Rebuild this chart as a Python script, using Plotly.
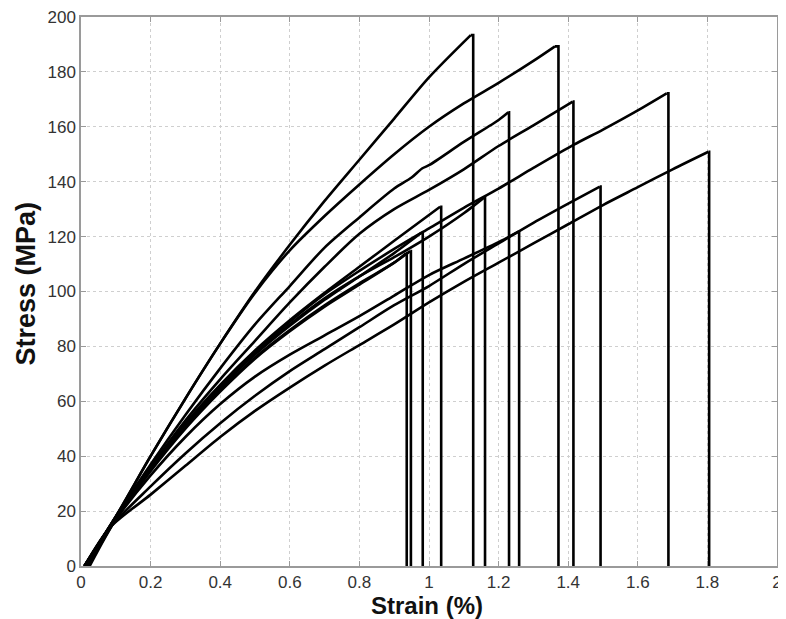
import plotly.graph_objects as go

# Stress-strain curves of 13 specimens
# strain in %, stress in MPa; each curve ends with a vertical drop at failure
c1_strain = [0.01, 0.1, 0.2, 0.3, 0.4, 0.5, 0.6, 0.7, 0.8, 0.9, 1.0, 1.12]
c1_stress = [0, 18, 40, 61, 81, 100, 117, 133, 148, 163, 178, 193.4]

c2_strain = [0.01, 0.1, 0.2, 0.3, 0.4, 0.5, 0.6, 0.7, 0.8, 0.9, 1.0, 1.1, 1.2, 1.3, 1.362]
c2_stress = [0, 18, 40, 61, 81, 99.5, 115, 127.5, 139, 150, 160, 168.5, 176, 184, 189.3]

c3_strain = [0.01, 0.1, 0.2, 0.3, 0.4, 0.5, 0.6, 0.7, 0.8, 0.9, 0.95, 0.98, 1.0, 1.1, 1.2, 1.228]
c3_stress = [0, 18, 37, 55, 72, 88, 102, 116, 127, 137.5, 141.5, 144.8, 146, 154.5, 162.5, 165.3]

c4_strain = [0.01, 0.1, 0.2, 0.3, 0.4, 0.5, 0.6, 0.7, 0.8, 0.9, 1.0, 1.1, 1.2, 1.3, 1.413]
c4_stress = [0, 17.5, 36, 53, 68, 82, 96, 109, 121, 130, 137, 144.5, 153, 160.5, 169.2]

c5_strain = [0.015, 0.1, 0.2, 0.3, 0.4, 0.5, 0.6, 0.7, 0.8, 0.9, 1.0, 1.1, 1.2, 1.3, 1.415, 1.5, 1.6, 1.683]
c5_stress = [0, 17.5, 35.5, 51.5, 65.5, 78, 89, 99, 107.5, 115.5, 123, 130.5, 137.5, 145, 153.4, 159, 166, 172.2]

c6_strain = [0.01, 0.083, 0.2, 0.3, 0.4, 0.5, 0.6, 0.7, 0.8, 0.9, 1.0, 1.1, 1.2, 1.3, 1.4, 1.5, 1.6, 1.7, 1.803]
c6_stress = [0, 14, 26, 36.5, 47, 56.5, 65, 73, 80.5, 88, 96, 103.5, 110.5, 117.5, 124.5, 131.5, 138, 144.5, 150.9]

c7_strain = [0.01, 0.083, 0.2, 0.3, 0.4, 0.5, 0.6, 0.7, 0.8, 0.9, 1.0, 1.1, 1.2, 1.3, 1.4, 1.491]
c7_stress = [0, 14, 29, 41, 52, 62, 71, 79, 87, 95, 102, 110, 117.5, 125, 132, 138.2]

c8_strain = [0.015, 0.1, 0.2, 0.3, 0.4, 0.5, 0.6, 0.7, 0.8, 0.9, 1.032]
c8_stress = [0, 18, 36, 52, 66, 78.5, 89.5, 99.5, 109, 118.5, 130.9]

c9_strain = [0.015, 0.1, 0.2, 0.3, 0.4, 0.5, 0.6, 0.7, 0.8, 0.9, 1.0, 1.1, 1.158]
c9_stress = [0, 17.5, 35.5, 51, 65, 77.5, 88, 97.5, 105.5, 112.5, 120, 128.5, 134.2]

c10_strain = [0.01, 0.1, 0.2, 0.3, 0.4, 0.5, 0.6, 0.7, 0.8, 0.9, 1.0, 1.1, 1.2, 1.257]
c10_stress = [0, 17, 33, 47, 59, 69, 77, 84, 91, 98.5, 106, 112, 118, 121.8]

c11_strain = [0.02, 0.1, 0.2, 0.3, 0.4, 0.5, 0.6, 0.7, 0.8, 0.9, 0.977]
c11_stress = [0, 17.5, 35.5, 51.5, 65, 77, 87.5, 97, 105.5, 114, 121.3]

c12_strain = [0.02, 0.1, 0.2, 0.3, 0.4, 0.5, 0.6, 0.7, 0.8, 0.9, 0.934]
c12_stress = [0, 17, 35, 51, 64, 76, 86, 95, 103, 110.5, 113.9]

c13_strain = [0.025, 0.1, 0.2, 0.3, 0.4, 0.5, 0.6, 0.7, 0.8, 0.9, 0.946]
c13_stress = [0, 17, 34.5, 50, 63.5, 75.5, 85.5, 94.5, 102.5, 110.5, 114.7]

# strain at failure (vertical drop to zero)
fail_strain = [1.127, 1.372, 1.230, 1.415, 1.688, 1.805, 1.493, 1.035, 1.161, 1.259, 0.982, 0.936, 0.948]

x_ticks = [0, 0.2, 0.4, 0.6, 0.8, 1, 1.2, 1.4, 1.6, 1.8, 2]
x_tick_labels = ["0", "0.2", "0.4", "0.6", "0.8", "1", "1.2", "1.4", "1.6", "1.8", "2"]
y_ticks = [0, 20, 40, 60, 80, 100, 120, 140, 160, 180, 200]
y_tick_labels = ["0", "20", "40", "60", "80", "100", "120", "140", "160", "180", "200"]

curves = [
    (c1_strain, c1_stress), (c2_strain, c2_stress), (c3_strain, c3_stress),
    (c4_strain, c4_stress), (c5_strain, c5_stress), (c6_strain, c6_stress),
    (c7_strain, c7_stress), (c8_strain, c8_stress), (c9_strain, c9_stress),
    (c10_strain, c10_stress), (c11_strain, c11_stress), (c12_strain, c12_stress),
    (c13_strain, c13_stress),
]

line_style = dict(color="black", width=2.6)
fig = go.Figure()
for (xs, ys), xf in zip(curves, fail_strain):
    # loading part (smoothed)
    fig.add_trace(go.Scatter(
        x=xs, y=ys, mode="lines", line=dict(shape="spline", smoothing=0.8, **line_style),
        showlegend=False, hoverinfo="skip",
    ))
    # brittle failure: vertical drop to zero
    fig.add_trace(go.Scatter(
        x=[xs[-1], xf, xf], y=[ys[-1], ys[-1], 0], mode="lines", line=line_style,
        showlegend=False, hoverinfo="skip",
    ))

font_family = "Liberation Sans, Arial, Helvetica, sans-serif"
axis_common = dict(
    showline=True, linecolor="#9a9a9a", linewidth=1.5, mirror="ticks",
    ticks="inside", ticklen=5, tickcolor="#9a9a9a", tickwidth=1.2,
    showgrid=True, gridcolor="#cfcfcf", gridwidth=1, griddash="dot",
    zeroline=False, automargin=False, ticklabeloverflow="allow",
    tickfont=dict(family=font_family, size=17, color="#333333"),
)

# the page body adds an 8 px margin, so the figure is sized to fit the 786x619 window
fig.update_layout(
    width=778, height=611,
    margin=dict(l=73, r=9, t=9, b=53),
    paper_bgcolor="white", plot_bgcolor="white",
    font=dict(family=font_family),
    xaxis=dict(range=[0, 2], tickvals=x_ticks, ticktext=x_tick_labels, **axis_common),
    yaxis=dict(range=[0, 200], tickvals=y_ticks, ticktext=y_tick_labels, **axis_common),
    annotations=[
        dict(text="<b>Strain (%)</b>", xref="paper", yref="paper", x=0.497, y=0,
             xanchor="center", yanchor="middle", yshift=-39, showarrow=False,
             font=dict(family=font_family, size=24, color="#111111")),
        dict(text="<b>Stress (MPa)</b>", xref="paper", yref="paper", x=0, y=0.5146,
             xanchor="center", yanchor="middle", xshift=-55, textangle=-90,
             showarrow=False, font=dict(family=font_family, size=27, color="#111111")),
    ],
)

fig.write_html("out.html")
